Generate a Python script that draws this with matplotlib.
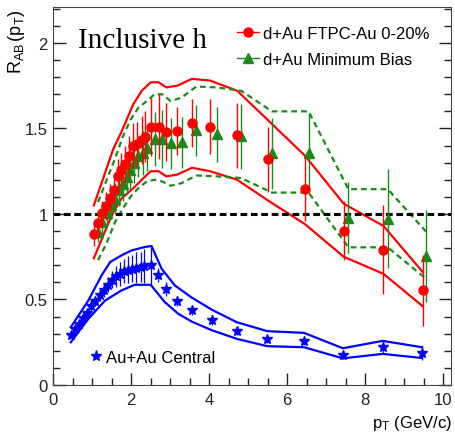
import matplotlib
matplotlib.use("Agg")
import matplotlib.pyplot as plt
from matplotlib.lines import Line2D

plt.rcParams["font.family"] = ["Liberation Sans", "DejaVu Sans"]
plt.rcParams["mathtext.fontset"] = "custom"
plt.rcParams["mathtext.rm"] = "Liberation Sans"
plt.rcParams["mathtext.it"] = "Liberation Sans"

# ── data ─────────────────────────────────────────────────────────────
red_x = [1.04, 1.15, 1.24, 1.35, 1.46, 1.55, 1.65, 1.75, 1.85, 1.94, 2.05, 2.16, 2.27,
         2.36, 2.50, 2.70, 2.90, 3.18, 3.56, 4.02, 4.72, 5.50, 6.46, 7.45, 8.47, 9.48]
red_y = [0.885, 0.948, 1.008, 1.047, 1.094, 1.143, 1.221, 1.256, 1.29, 1.338, 1.399, 1.407,
         1.432, 1.452, 1.51, 1.51, 1.477, 1.485, 1.534, 1.51, 1.46, 1.319, 1.147, 0.903,
         0.791, 0.553]
red_err = [0.07, 0.07, 0.07, 0.08, 0.08, 0.09, 0.10, 0.10, 0.11, 0.12, 0.13, 0.13, 0.14,
           0.15, 0.17, 0.19, 0.17, 0.14, 0.14, 0.16, 0.19, 0.19, 0.19, 0.17, 0.26, 0.21]

green_x = [1.15, 1.26, 1.37, 1.47, 1.58, 1.68, 1.78, 1.88, 1.98, 2.08, 2.18, 2.30, 2.40,
           2.60, 2.80, 3.01, 3.29, 3.67, 4.19, 4.82, 5.61, 6.55, 7.57, 8.58, 9.57]
green_y = [0.895, 0.953, 1.006, 1.051, 1.09, 1.139, 1.178, 1.217, 1.256, 1.30, 1.338, 1.358,
           1.383, 1.438, 1.438, 1.413, 1.418, 1.49, 1.465, 1.455, 1.354, 1.354, 0.979, 0.973,
           0.754]
green_err = [0.06, 0.07, 0.07, 0.08, 0.09, 0.09, 0.10, 0.10, 0.11, 0.12, 0.12, 0.13, 0.13,
             0.16, 0.17, 0.15, 0.15, 0.15, 0.16, 0.19, 0.21, 0.23, 0.21, 0.29, 0.27]

blue_x = [0.45, 0.56, 0.66, 0.77, 0.87, 0.98, 1.08, 1.19, 1.29, 1.40, 1.50, 1.60, 1.71, 1.81,
          1.91, 2.02, 2.12, 2.24, 2.34, 2.50, 2.69, 2.89, 3.18, 3.56, 4.07, 4.71, 5.49, 6.43,
          7.43, 8.45, 9.46]
blue_y = [0.293, 0.328, 0.357, 0.391, 0.422, 0.461, 0.49, 0.524, 0.557, 0.586, 0.615, 0.635,
          0.651, 0.664, 0.674, 0.68, 0.686, 0.69, 0.694, 0.70, 0.645, 0.56, 0.49, 0.44, 0.38,
          0.318, 0.27, 0.26, 0.178, 0.221, 0.186]
blue_err = [0.02, 0.02, 0.02, 0.025, 0.025, 0.03, 0.03, 0.035, 0.04, 0.045, 0.05, 0.06, 0.07,
            0.07, 0.08, 0.08, 0.09, 0.09, 0.10, 0.11, 0.04, 0.04, 0.03, 0.03, 0.03, 0.025,
            0.025, 0.025, 0.025, 0.035, 0.04]

# systematic bands (upper / lower edges)
red_band_x = [1.04, 1.33, 1.54, 1.75, 2.05, 2.27, 2.50, 2.70, 2.90, 3.18, 3.56, 4.02, 4.72,
              5.50, 6.46, 7.45, 8.47, 9.48]
red_band_hi = [1.05, 1.24, 1.38, 1.48, 1.64, 1.72, 1.77, 1.77, 1.74, 1.75, 1.79, 1.78, 1.72,
               1.55, 1.34, 1.06, 0.93, 0.66]
red_band_lo = [0.74, 0.90, 1.01, 1.09, 1.15, 1.20, 1.25, 1.25, 1.22, 1.23, 1.27, 1.25, 1.20,
               1.08, 0.94, 0.75, 0.65, 0.46]

green_band_x = [1.15, 1.37, 1.58, 1.78, 1.98, 2.18, 2.40, 2.60, 2.80, 3.01, 3.29, 3.67, 4.19,
                4.82, 5.61, 6.55, 7.57, 8.58, 9.57]
green_band_hi = [1.07, 1.20, 1.32, 1.45, 1.55, 1.62, 1.66, 1.70, 1.70, 1.66, 1.68, 1.745,
                 1.74, 1.72, 1.60, 1.60, 1.145, 1.145, 0.895]
green_band_lo = [0.73, 0.83, 0.95, 1.03, 1.10, 1.15, 1.19, 1.20, 1.19, 1.165, 1.18, 1.225,
                 1.22, 1.21, 1.125, 1.125, 0.805, 0.805, 0.62]

blue_hi_x = [0.45, 0.90, 1.24, 1.46, 1.75, 2.01, 2.35, 2.52, 2.78, 3.12, 3.56, 4.07, 4.71,
             5.49, 6.43, 7.43, 8.45, 9.46]
blue_hi = [0.338, 0.494, 0.641, 0.719, 0.758, 0.787, 0.807, 0.813, 0.68, 0.582, 0.51, 0.44,
           0.367, 0.315, 0.305, 0.215, 0.258, 0.221]
blue_lo_x = [0.45, 0.90, 1.33, 1.75, 2.09, 2.50, 2.86, 3.21, 3.56, 4.07, 4.71, 5.49, 6.43,
             7.43, 8.45, 9.46]
blue_lo = [0.25, 0.387, 0.494, 0.553, 0.586, 0.586, 0.485, 0.416, 0.37, 0.32, 0.27, 0.227,
           0.221, 0.156, 0.182, 0.158]

RED = "#ff0000"
GREEN = "#1a8a1a"
BLUE = "#0000ff"

fig = plt.figure(figsize=(4.55, 4.35), dpi=100)
ax = fig.add_axes([0.117, 0.1126, 0.874, 0.869])

# bands
ax.plot(red_band_x, red_band_hi, color=RED, lw=1.6)
ax.plot(red_band_x, red_band_lo, color=RED, lw=1.6)
ax.plot(green_band_x, green_band_hi, color=GREEN, lw=1.6, ls=(0, (2.6, 1.8)))
ax.plot(green_band_x, green_band_lo, color=GREEN, lw=1.6, ls=(0, (2.6, 1.8)))
ax.plot(blue_hi_x, blue_hi, color=BLUE, lw=1.6)
ax.plot(blue_lo_x, blue_lo, color=BLUE, lw=1.6)

# unity line
ax.axhline(1.0, color="black", lw=2.2, ls=(0, (2.2, 1.2)))

# data points
ax.errorbar(green_x, green_y, yerr=green_err, fmt="^", color=GREEN, ms=6.5,
            ecolor=GREEN, elinewidth=1.0, capsize=0, zorder=4)
ax.errorbar(red_x, red_y, yerr=red_err, fmt="o", color=RED, ms=6.5,
            ecolor=RED, elinewidth=1.0, capsize=0, zorder=5)
ax.errorbar(blue_x, blue_y, yerr=blue_err, fmt="*", color=BLUE, ms=7,
            ecolor=BLUE, elinewidth=0.9, capsize=0, zorder=5)

ax.set_xlim(0, 10.2)
ax.set_ylim(0, 2.21)
ax.set_xticks([0, 2, 4, 6, 8, 10])
ax.set_xticks([i * 0.5 for i in range(21)], minor=True)
ax.set_yticks([0, 0.5, 1, 1.5, 2])
ax.set_yticklabels(["0", "0.5", "1", "1.5", "2"])
ax.set_yticks([i * 0.1 for i in range(23)], minor=True)
ax.tick_params(which="both", direction="in", right=True, top=False, labelsize=12,
               width=1.0, colors="#222222")
ax.tick_params(which="major", length=9)
ax.tick_params(which="minor", length=5)
ax.tick_params(axis="x", pad=5)
ax.tick_params(axis="y", pad=4)
for s in ax.spines.values():
    s.set_color("#444444")

ax.set_ylabel(r"$\mathrm{R_{AB}\,(p_{T})}$", fontsize=13, loc="top")
ax.yaxis.set_label_coords(-0.066, 0.995)
ax.set_xlabel(r"$\mathrm{p_{T}}$ (GeV/c)", fontsize=12, loc="right")
ax.xaxis.set_label_coords(1.003, -0.075)

ax.text(0.63, 1.975, "Inclusive h", fontsize=21, family="Liberation Serif",
        va="baseline", ha="left")

handles = [Line2D([], [], color=RED, marker="o", ms=6.5, lw=1.0),
           Line2D([], [], color=GREEN, marker="^", ms=6.5, lw=1.0)]
leg1 = ax.legend(handles, ["d+Au FTPC-Au 0-20%", "d+Au Minimum Bias"], loc="upper left",
                 bbox_to_anchor=(0.462, 0.949), frameon=False, fontsize=12,
                 handlelength=1.35, handletextpad=0.2, labelspacing=0.63,
                 borderpad=0, borderaxespad=0)
ax.add_artist(leg1)
h2 = [Line2D([], [], color=BLUE, marker="*", ms=8, lw=0)]
ax.legend(h2, ["Au+Au Central"], loc="center left", bbox_to_anchor=(0.092, 0.074),
          frameon=False, fontsize=12, handlelength=0.7, handletextpad=0.3,
          borderpad=0, borderaxespad=0)

fig.savefig("out.png", dpi=100)
